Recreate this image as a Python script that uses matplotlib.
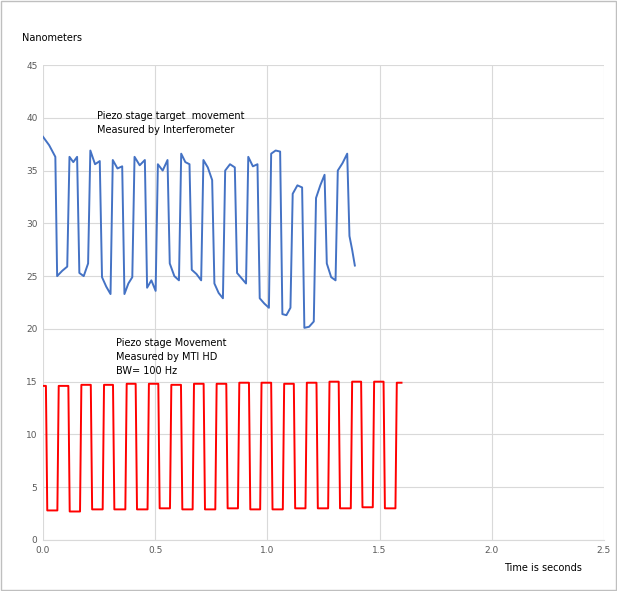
import matplotlib
matplotlib.use("Agg")
import matplotlib.pyplot as plt
from matplotlib.patches import Rectangle

# Blue (interferometer): plateau segments (t_start, t_end, v_start, v_mid, v_end)
blue_segments = [
    (0.000, 0.055, 38.2, 37.4, 36.3),
    (0.063, 0.108, 25.0, 25.5, 25.9),
    (0.118, 0.152, 36.3, 35.8, 36.3),
    (0.162, 0.201, 25.3, 25.0, 26.2),
    (0.211, 0.253, 36.9, 35.6, 35.9),
    (0.263, 0.301, 24.9, 24.0, 23.3),
    (0.311, 0.353, 36.0, 35.2, 35.4),
    (0.363, 0.398, 23.3, 24.3, 24.9),
    (0.408, 0.454, 36.3, 35.5, 36.0),
    (0.464, 0.502, 23.9, 24.6, 23.6),
    (0.512, 0.555, 35.6, 35.0, 36.0),
    (0.565, 0.606, 26.2, 25.0, 24.6),
    (0.616, 0.653, 36.6, 35.8, 35.6),
    (0.663, 0.705, 25.6, 25.2, 24.6),
    (0.715, 0.754, 36.0, 35.3, 34.1),
    (0.764, 0.802, 24.3, 23.4, 22.9),
    (0.812, 0.855, 35.0, 35.6, 35.3),
    (0.865, 0.905, 25.3, 24.8, 24.3),
    (0.915, 0.956, 36.3, 35.4, 35.6),
    (0.966, 1.007, 22.9, 22.4, 22.0),
    (1.017, 1.057, 36.6, 36.9, 36.8),
    (1.067, 1.103, 21.4, 21.3, 22.0),
    (1.113, 1.155, 32.8, 33.6, 33.4),
    (1.165, 1.207, 20.1, 20.2, 20.7),
    (1.217, 1.255, 32.4, 33.6, 34.6),
    (1.265, 1.304, 26.2, 24.9, 24.6),
    (1.314, 1.356, 35.0, 35.7, 36.6),
    (1.366, 1.390, 28.8, 27.5, 26.0),
]

# Red (MTI HD): falling and rising edge times, high/low plateau levels
red_fall = [0.016, 0.116, 0.216, 0.315, 0.416, 0.517, 0.618, 0.719, 0.820,
            0.921, 1.020, 1.121, 1.222, 1.321, 1.421, 1.521]
red_rise = [0.067, 0.168, 0.269, 0.370, 0.469, 0.569, 0.670, 0.771, 0.872,
            0.971, 1.072, 1.173, 1.274, 1.375, 1.473, 1.574]
red_high = [14.6, 14.6, 14.7, 14.7, 14.8, 14.8, 14.7, 14.8, 14.8, 14.9,
            14.9, 14.8, 14.9, 15.0, 15.0, 15.0, 14.9]
red_low = [2.8, 2.7, 2.9, 2.9, 2.9, 3.0, 2.9, 2.9, 3.0, 2.9, 2.9, 3.0,
           3.0, 3.0, 3.1, 3.0]
red_end = 1.598

bx, by = [], []
for s in blue_segments:
    t0, t1, a, m, b = s
    bx += [t0, (t0 + t1) / 2, t1]
    by += [a, m, b]

rx, ry = [0.0], [red_high[0]]
for i in range(len(red_fall)):
    rx += [red_fall[i] - 0.003, red_fall[i] + 0.003, red_rise[i] - 0.003, red_rise[i] + 0.003]
    ry += [red_high[i], red_low[i], red_low[i], red_high[i + 1]]
rx.append(red_end)
ry.append(red_high[-1])

fig = plt.figure(figsize=(6.17, 5.91), dpi=100)
ax = fig.add_axes([0.0697, 0.0863, 0.909, 0.8037])
ax.plot(bx, by, color="#4472C4", lw=1.4)
ax.plot(rx, ry, color="#FF0000", lw=1.4)
ax.set_xlim(0, 2.5)
ax.set_ylim(0, 45)
ax.set_xticks([0, 0.5, 1.0, 1.5, 2.0, 2.5])
ax.set_xticklabels(["0.0", "0.5", "1.0", "1.5", "2.0", "2.5"])
ax.set_yticks(range(0, 50, 5))
ax.grid(True, color="#D9D9D9", lw=0.8)
ax.set_axisbelow(True)
for sp in ["top", "right"]:
    ax.spines[sp].set_visible(False)
ax.spines["left"].set_visible(False)
ax.spines["bottom"].set_color("#D9D9D9")
ax.tick_params(length=0, labelsize=6.5, colors="#595959", pad=4)
ax.text(0.24, 40.6, "Piezo stage target  movement\nMeasured by Interferometer",
        fontsize=7, va="top", linespacing=1.5)
ax.text(0.325, 19.1, "Piezo stage Movement\nMeasured by MTI HD\nBW= 100 Hz",
        fontsize=7, va="top", linespacing=1.5)
fig.text(22 / 617, 1 - 38 / 591, "Nanometers", fontsize=7, va="center")
fig.text(582 / 617, 1 - 568 / 591, "Time is seconds", fontsize=7, va="center", ha="right")
fig.patches.append(Rectangle((0.002, 0.002), 0.996, 0.996, transform=fig.transFigure,
                             fill=False, edgecolor="#BFBFBF", lw=1))
fig.savefig("out.png", dpi=100)
